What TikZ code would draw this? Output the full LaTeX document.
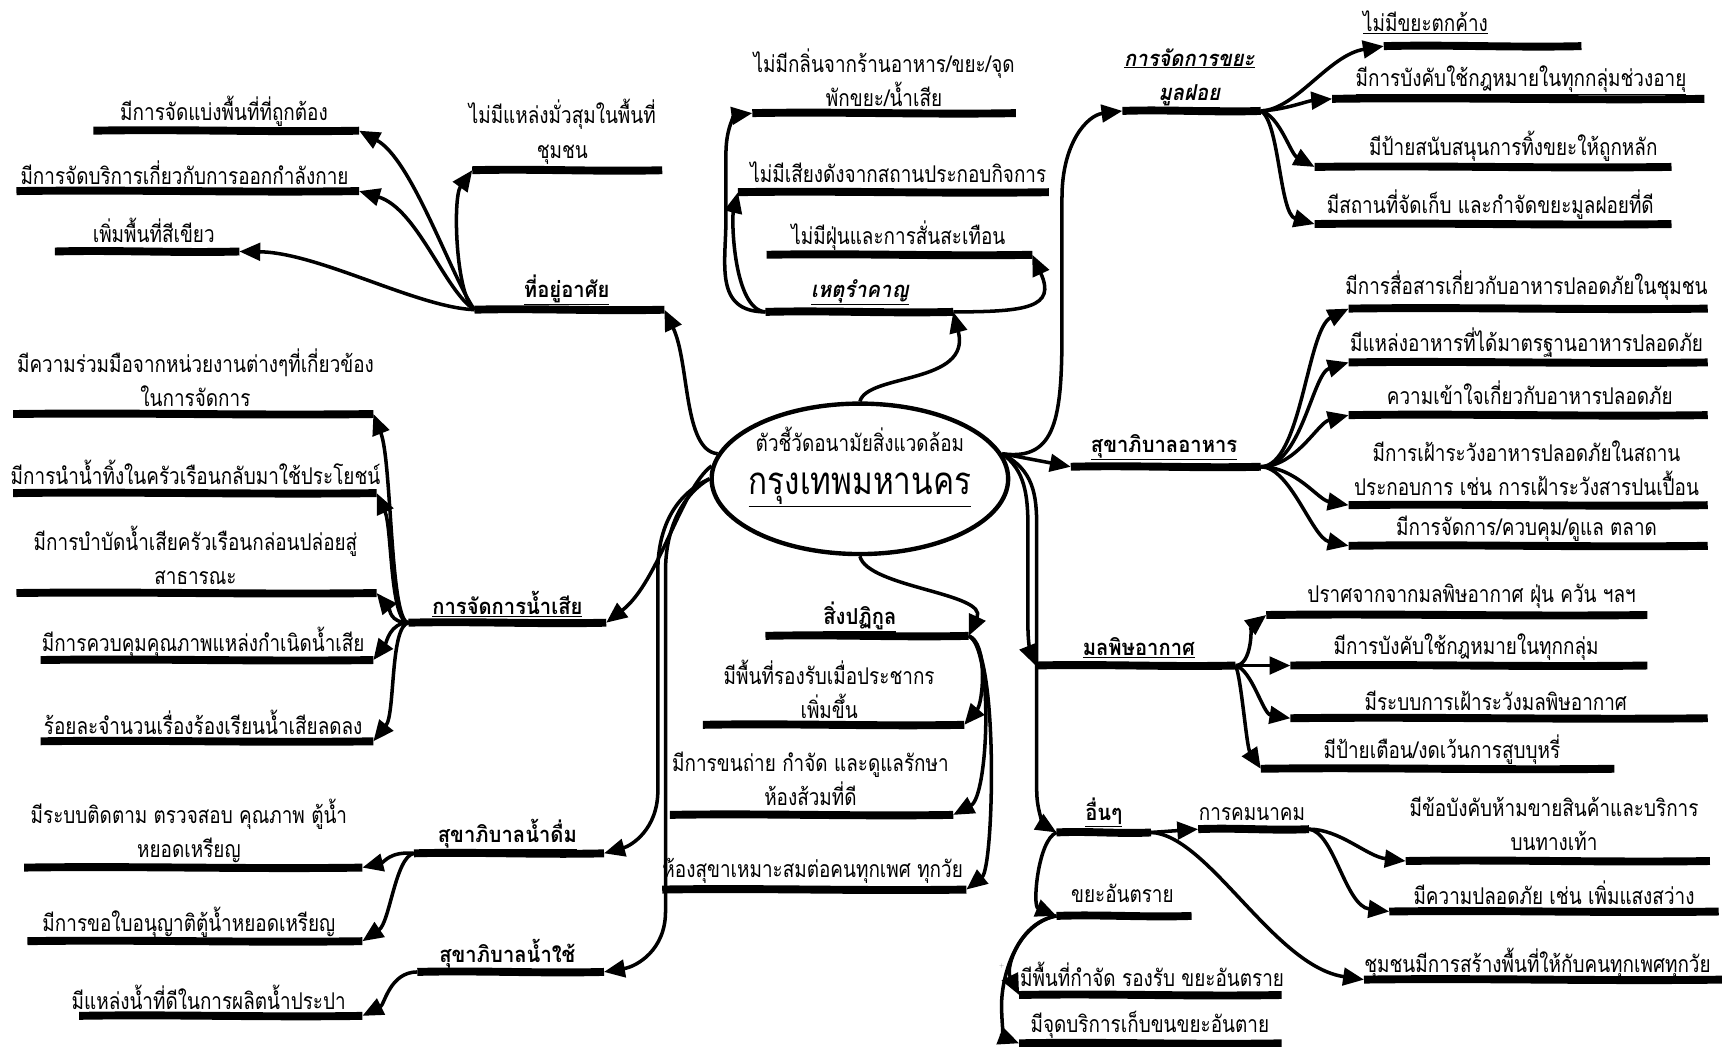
\documentclass[tikz,border=0pt]{standalone}
\usepackage{fontspec}
\newfontfamily\thai[Script=Thai,FakeStretch=0.82]{Loma}
\newfontfamily\thaih[Script=Thai,FakeStretch=0.92]{Loma}
\usetikzlibrary{arrows.meta,shapes.geometric,calc}
\newcommand{\mybar}[4]{\coordinate (#1L) at (#2,#4); \coordinate (#1R) at (#3,#4);
  \draw[barst] (#1L) .. controls ($(#1L)!.33!(#1R)+(0,-1.5)$) and ($(#1L)!.66!(#1R)+(0,1.5)$) .. (#1R);}
\begin{document}
\begin{tikzpicture}[x=1pt,y=-1pt,
  barst/.style={line width=7.2pt},
  conn/.style={line width=3.2pt,-{Triangle[length=19pt,width=16pt]}},
  txt/.style={font=\thai\fontsize{21}{31}\selectfont, inner sep=0pt, align=center},
  head/.style={font=\thaih\bfseries\fontsize{20}{31}\selectfont, inner sep=0pt, align=center},
  headi/.style={font=\thaih\bfseries\itshape\fontsize{20}{31}\selectfont, inner sep=0pt, align=center}]
\useasboundingbox (0,0) rectangle (1568,953);
\fill[white] (0,0) rectangle (1568,953);

% centre
\node[ellipse, draw, line width=4pt, minimum width=270pt, minimum height=137pt] (c) at (783,436) {};
\node[txt] (ct1) at (783,400) {ตัวชี้วัดอนามัยสิ่งแวดล้อม};
\node[txt, font=\thai\fontsize{35}{38}\selectfont] (ct2) at (783,446) {\underline{กรุงเทพมหานคร}};

% ---- ที่อยู่อาศัย
\mybar{hA}{432}{605}{282}
\node[head] (hAt) at (516,264) {\underline{ที่อยู่อาศัย}};
\mybar{hAa}{85}{327}{119}
\node[txt] (hAat) at (204,101) {มีการจัดแบ่งพื้นที่ที่ถูกต้อง};
\mybar{hAb}{15}{327}{174}
\node[txt] (hAbt) at (168,157) {มีการจัดบริการเกี่ยวกับการออกกำลังกาย};
\mybar{hAc}{50}{218}{229}
\node[txt] (hAct) at (140,210) {เพิ่มพื้นที่สีเขียว};
\mybar{hAd}{430}{603}{155}
\node[txt] (hAdt) at (512,120) {ไม่มีแหล่งมั่วสุมในพื้นที่\\ชุมชน};

% ---- เหตุรำคาญ
\mybar{n}{697}{868}{284}
\node[headi] (nt) at (783,266) {\underline{เหตุรำคาญ}};
\mybar{na}{685}{925}{103}
\node[txt] (nat) at (805,71) {ไม่มีกลิ่นจากร้านอาหาร/ขยะ/จุด\\พักขยะ/น้ำเสีย};
\mybar{nb}{672}{955}{175}
\node[txt] (nbt) at (818,157) {ไม่มีเสียงดังจากสถานประกอบกิจการ};
\mybar{nc}{698}{940}{232}
\node[txt] (nct) at (818,215) {ไม่มีฝุ่นและการสั่นสะเทือน};

% ---- ขยะ
\mybar{w}{1022}{1148}{101}
\node[headi] (wt) at (1083,71) {\underline{การจัดการขยะ}\\\underline{มูลฝอย}};
\mybar{wa}{1260}{1440}{42}
\node[txt] (wat) at (1298,20) {\underline{ไม่มีขยะตกค้าง}};
\mybar{wb}{1213}{1552}{90}
\node[txt] (wbt) at (1385,73) {\underline{มีการบังคับใช้กฎหมายในทุกกลุ่มช่วงอายุ}};
\mybar{wc}{1197}{1522}{152}
\node[txt] (wct) at (1378,133) {มีป้ายสนับสนุนการทิ้งขยะให้ถูกหลัก};
\mybar{wd}{1197}{1522}{204}
\node[txt] (wdt) at (1357,186) {มีสถานที่จัดเก็บ และกำจัดขยะมูลฝอยที่ดี};

% ---- อาหาร
\mybar{f}{975}{1148}{425}
\node[head] (ft) at (1060,407) {\underline{สุขาภิบาลอาหาร}};
\mybar{fa}{1228}{1555}{281}
\node[txt] (fat) at (1390,260) {มีการสื่อสารเกี่ยวกับอาหารปลอดภัยในชุมชน};
\mybar{fb}{1228}{1555}{330}
\node[txt] (fbt) at (1390,312) {มีแหล่งอาหารที่ได้มาตรฐานอาหารปลอดภัย};
\mybar{fc}{1228}{1555}{378}
\node[txt] (fct) at (1393,358) {ความเข้าใจเกี่ยวกับอาหารปลอดภัย};
\mybar{fd}{1228}{1555}{460}
\node[txt] (fdt) at (1390,426) {มีการเฝ้าระวังอาหารปลอดภัยในสถาน\\ประกอบการ เช่น การเฝ้าระวังสารปนเปื้อน};
\mybar{fe}{1228}{1555}{497}
\node[txt] (fet) at (1390,481) {มีการจัดการ/ควบคุม/ดูแล ตลาด};

% ---- มลพิษอากาศ
\mybar{m}{943}{1125}{606}
\node[head] (mt) at (1037,590) {\underline{มลพิษอากาศ}};
\mybar{ma}{1153}{1500}{560}
\node[txt] (mat) at (1340,543) {ปราศจากจากมลพิษอากาศ ฝุ่น ควัน ฯลฯ};
\mybar{mb}{1175}{1500}{606}
\node[txt] (mbt) at (1335,590) {\underline{มีการบังคับใช้กฎหมายในทุกกลุ่ม}};
\mybar{mc}{1175}{1555}{654}
\node[txt] (mct) at (1362,638) {มีระบบการเฝ้าระวังมลพิษอากาศ};
\mybar{md}{1148}{1470}{700}
\node[txt] (mdt) at (1313,683) {มีป้ายเตือน/งดเว้นการสูบบุหรี่};

% ---- อื่นๆ
\mybar{o}{962}{1048}{758}
\node[head] (ot) at (1005,740) {\underline{อื่นๆ}};
\mybar{k}{1091}{1192}{755}
\node[txt] (kt) at (1140,741) {การคมนาคม};
\mybar{oa}{1280}{1557}{784}
\node[txt] (oat) at (1415,750) {มีข้อบังคับห้ามขายสินค้าและบริการ\\บนทางเท้า};
\mybar{ob}{1265}{1565}{830}
\node[txt] (obt) at (1415,813) {มีความปลอดภัย เช่น เพิ่มแสงสว่าง};
\mybar{oc}{1242}{1568}{892}
\node[txt] (oct) at (1400,877) {ชุมชนมีการสร้างพื้นที่ให้กับคนทุกเพศทุกวัย};
\mybar{z}{962}{1085}{834}
\node[txt] (zt) at (1022,813) {ขยะอันตราย};
\mybar{za}{928}{1167}{906}
\node[txt] (zat) at (1049,887) {มีพื้นที่กำจัด รองรับ ขยะอันตราย};
\mybar{zb}{928}{1167}{950}
\node[txt] (zbt) at (1047,933) {มีจุดบริการเก็บขนขยะอันตาย};
\node[font=\tiny, text=gray, inner sep=0pt] (plus) at (912,880) {+};

% ---- สิ่งปฏิกูล
\mybar{s}{697}{882}{579}
\node[head] (st) at (783,562) {\underline{สิ่งปฏิกูล}};
\mybar{sa}{640}{878}{660}
\node[txt] (sat) at (755,628) {มีพื้นที่รองรับเมื่อประชากร\\เพิ่มขึ้น};
\mybar{sb}{610}{868}{742}
\node[txt] (sbt) at (738,709) {มีการขนถ่าย กำจัด และดูแลรักษา\\ห้องส้วมที่ดี};
\mybar{sc}{603}{880}{810}
\node[txt] (sct) at (740,793) {ห้องสุขาเหมาะสมต่อคนทุกเพศ ทุกวัย};

% ---- น้ำเสีย
\mybar{e}{372}{552}{567}
\node[head] (et) at (462,550) {\underline{การจัดการน้ำเสีย}};
\mybar{ea}{12}{340}{377}
\node[txt] (eat) at (178,344) {มีความร่วมมือจากหน่วยงานต่างๆที่เกี่ยวข้อง\\ในการจัดการ};
\mybar{eb}{12}{343}{449}
\node[txt] (ebt) at (178,430) {มีการนำน้ำทิ้งในครัวเรือนกลับมาใช้ประโยชน์};
\mybar{ec}{15}{343}{540}
\node[txt] (ect) at (178,506) {มีการบำบัดน้ำเสียครัวเรือนกล่อนปล่อยสู่\\สาธารณะ};
\mybar{ed}{37}{340}{601}
\node[txt] (edt) at (185,585) {มีการควบคุมคุณภาพแหล่งกำเนิดน้ำเสีย};
\mybar{ee}{37}{340}{675}
\node[txt] (eet) at (185,658) {ร้อยละจำนวนเรื่องร้องเรียนน้ำเสียลดลง};

% ---- น้ำดื่ม
\mybar{d}{377}{550}{777}
\node[head] (dt) at (462,760) {\underline{สุขาภิบาลน้ำดื่ม}};
\mybar{da}{22}{330}{790}
\node[txt] (dat) at (172,757) {มีระบบติดตาม ตรวจสอบ คุณภาพ ตู้น้ำ\\หยอดเหรียญ};
\mybar{db}{25}{330}{857}
\node[txt] (dbt) at (172,840) {มีการขอใบอนุญาติตู้น้ำหยอดเหรียญ};

% ---- น้ำใช้
\mybar{u}{380}{550}{885}
\node[head] (ut) at (462,869) {\underline{สุขาภิบาลน้ำใช้}};
\mybar{ua}{72}{330}{925}
\node[txt] (uat) at (190,908) {มีแหล่งน้ำที่ดีในการผลิตน้ำประปา};

% ===== connectors from centre
\draw[conn] (c.170) .. controls (622,410) and (628,330) .. (hAR);
\draw[conn] (c.north) .. controls (790,340) and (885,350) .. (nR);
\draw[conn] (c.10) .. controls (962,420) and (967,380) .. (967,300) -- (967,180) .. controls (967,130) and (990,105) .. (wL);
\draw[conn] (c.10) -- (fL);
\draw[conn] (c.10) .. controls (933,428) and (936,450) .. (936,480) -- (936,570) .. controls (936,588) and (939,596) .. (mL);
\draw[conn] (c.10) .. controls (941,428) and (944,450) .. (944,480) -- (944,720) .. controls (944,740) and (952,752) .. (oL);
\draw[conn] (c.south) .. controls (790,535) and (900,540) .. (sR);
\draw[conn] (c.175) .. controls (620,445) and (600,530) .. (eR);
\draw[conn] (c.180) .. controls (615,450) and (599,480) .. (599,520) -- (599,720) .. controls (599,755) and (575,770) .. (dR);
\draw[conn] (c.180) .. controls (622,450) and (606,480) .. (606,520) -- (606,830) .. controls (606,865) and (580,880) .. (uR);

% ===== ที่อยู่อาศัย children
\draw[conn] (hAL) .. controls (410,250) and (375,145) .. (hAaR);
\draw[conn] (hAL) .. controls (405,265) and (380,190) .. (hAbR);
\draw[conn] (hAL) .. controls (380,280) and (290,230) .. (hAcR);
\draw[conn] (hAL) .. controls (415,270) and (412,180) .. (hAdL);

% ===== เหตุรำคาญ children
\draw[conn] (nL) .. controls (650,284) and (661,240) .. (661,200) -- (661,140) .. controls (661,115) and (670,105) .. (naL);
\draw[conn] (nL) .. controls (668,282) and (666,200) .. (nbL);
\draw[conn] (nR) .. controls (935,284) and (962,280) .. (ncR);

% ===== ขยะ children
\draw[conn] (wR) .. controls (1180,100) and (1210,50) .. (waL);
\draw[conn] (wR) .. controls (1170,100) and (1190,92) .. (wbL);
\draw[conn] (wR) .. controls (1165,105) and (1175,140) .. (wcL);
\draw[conn] (wR) .. controls (1165,110) and (1165,195) .. (wdL);

% ===== อาหาร children
\draw[conn] (fR) .. controls (1185,425) and (1190,300) .. (faL);
\draw[conn] (fR) .. controls (1185,425) and (1195,340) .. (fbL);
\draw[conn] (fR) .. controls (1180,425) and (1200,385) .. (fcL);
\draw[conn] (fR) .. controls (1180,425) and (1200,455) .. (fdL);
\draw[conn] (fR) .. controls (1175,425) and (1195,490) .. (feL);

% ===== มลพิษ children
\draw[conn] (mR) .. controls (1140,606) and (1140,570) .. (maL);
\draw[conn] (mR) -- (mbL);
\draw[conn] (mR) .. controls (1140,610) and (1150,650) .. (mcL);
\draw[conn] (mR) .. controls (1130,615) and (1135,680) .. (mdL);

% ===== อื่นๆ children
\draw[conn] (oR) -- (kL);
\draw[conn] (kR) .. controls (1220,755) and (1245,780) .. (oaL);
\draw[conn] (kR) .. controls (1215,758) and (1225,825) .. (obL);
\draw[conn] (oR) .. controls (1100,760) and (1160,880) .. (ocL);
\draw[conn] (oL) .. controls (945,765) and (940,825) .. (zL);
\draw[conn] (zL) .. controls (930,840) and (915,880) .. (zaL);
\draw[conn] (zL) .. controls (925,840) and (912,890) .. (912,915) .. controls (912,935) and (915,945) .. (zbL);

% ===== สิ่งปฏิกูล children
\draw[conn] (sR) .. controls (900,585) and (895,640) .. (saR);
\draw[conn] (sR) .. controls (905,590) and (900,725) .. (sbR);
\draw[conn] (sR) .. controls (910,590) and (905,790) .. (scR);

% ===== น้ำเสีย children
\draw[conn] (eL) .. controls (355,567) and (357,420) .. (eaR);
\draw[conn] (eL) .. controls (355,567) and (357,480) .. (ebR);
\draw[conn] (eL) .. controls (355,567) and (355,555) .. (ecR);
\draw[conn] (eL) .. controls (355,567) and (352,585) .. (edR);
\draw[conn] (eL) .. controls (355,570) and (360,650) .. (eeR);

% ===== น้ำดื่ม / น้ำใช้ children
\draw[conn] (dL) .. controls (355,775) and (350,785) .. (daR);
\draw[conn] (dL) .. controls (360,780) and (355,840) .. (dbR);
\draw[conn] (uL) .. controls (355,885) and (350,915) .. (uaR);
\end{tikzpicture}
\end{document}
